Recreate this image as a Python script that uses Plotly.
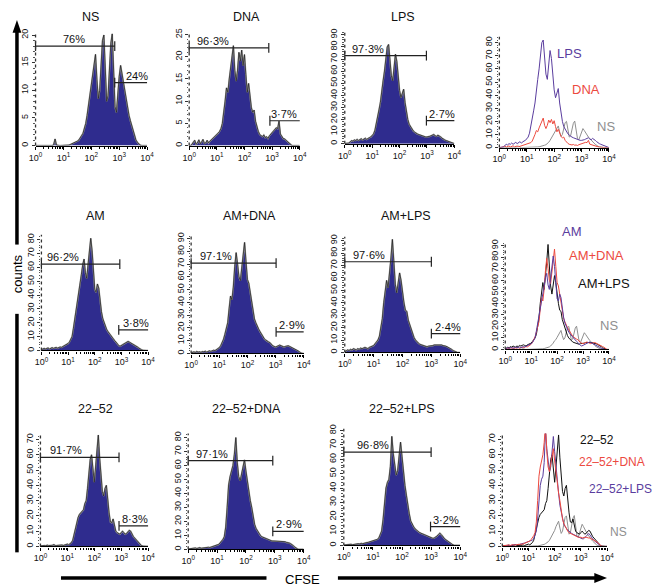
import plotly.graph_objects as go
from plotly.subplots import make_subplots

# the page puts the plot 8px in from the window corner, so the figure is
# 8px smaller and every pixel position below is taken back by that offset
OFF = 8
W, H = 660 - OFF, 586 - OFF

COLORS = {
    "fill": "#2f2c8e",
    "edge": "#1c1c1c",
    "halo": "#9a9a9a",
    "purple": "#5a3d9e",
    "red": "#ec4a3f",
    "grey": "#8f8f8f",
    "black": "#111111",
    "text": "#111111",
}
FONT = "Liberation Sans, Arial, Helvetica, sans-serif"

# CFSE channels: 0.05-decade steps from 10^0 to 10^4 (81 channels)
CHANNELS = [10 ** (k / 20) for k in range(81)]

# counts per channel (rows = half decades)
NS = [0, 0, 0, 0, 0, 0, 0, 0, 0, 0,
      0, 0, 0, 0.2, 1.2, 0.1, 0, 0, 0, 0,
      0, 0, 0, 0.1, 0.1, 0.2, 0.3, 0.4, 0.5, 0.6,
      0.8, 1.0, 1.3, 1.8, 2.2, 3.0, 4.0, 5.5, 7.5, 8.5,
      10.5, 13.0, 15.5, 16.5, 12.0, 8.5, 10.0, 15.0, 19.0, 20.0,
      13.0, 8.0, 9.0, 14.0, 18.5, 20.2, 14.0, 7.0, 6.0, 9.5,
      12.5, 14.5, 13.0, 11.0, 9.5, 8.0, 7.0, 5.5, 4.5, 3.5,
      2.5, 1.6, 1.0, 0.6, 0.3, 0.1, 0, 0, 0, 0,
      0]
DNA = [0, 0, 0.3, 0.8, 1.2, 0.3, 0.6, 1.3, 0.4, 0.8,
       1.4, 0.5, 0.6, 1.2, 0.6, 1.0, 1.3, 1.6, 1.8, 2.0,
       2.4, 2.8, 3.2, 3.8, 5.0, 7.0, 10.0, 13.0, 12.0, 15.0,
       18.0, 20.0, 22.5, 17.0, 14.5, 17.0, 21.0, 19.0, 21.5, 18.0,
       20.5, 16.0, 12.0, 14.0, 10.5, 8.5, 7.5, 8.0, 5.5, 4.0,
       3.2, 2.5, 2.2, 2.0, 2.4, 1.8, 2.0, 1.6, 2.2, 2.6,
       3.0, 3.4, 3.8, 4.0, 3.8, 5.5, 2.6, 2.2, 1.6, 1.5,
       1.2, 0.8, 0.6, 0.3, 0.1, 0, 0, 0, 0, 0,
       0]
LPS = [0, 0, 0, 0.5, 1.5, 2.5, 2.0, 3.0, 2.5, 3.5,
       2.5, 3.0, 4.0, 3.0, 3.5, 4.5, 3.5, 4.5, 5.0, 5.5,
       6.5, 8.0, 11.0, 16.0, 23.0, 28.0, 34.0, 45.0, 52.0, 60.0,
       68.0, 80.0, 82.0, 66.0, 56.0, 52.0, 62.0, 74.0, 68.0, 53.0,
       44.0, 38.0, 41.0, 45.0, 34.0, 25.0, 20.0, 16.0, 14.0, 12.0,
       10.5, 9.5, 8.5, 8.0, 7.5, 7.0, 6.5, 6.0, 6.0, 5.5,
       5.5, 5.5, 6.0, 6.5, 7.0, 7.5, 6.5, 6.0, 7.0, 6.5,
       5.5, 4.5, 3.5, 3.0, 2.5, 2.0, 1.5, 1.0, 0.5, 0,
       0]
AM = [0.5, 1.0, 1.5, 1.0, 1.2, 1.8, 1.0, 1.5, 2.0, 1.5,
      1.8, 2.2, 1.6, 2.0, 2.5, 2.2, 2.8, 3.0, 3.5, 4.0,
      5.0, 6.0, 8.0, 10.0, 16.0, 22.0, 29.0, 36.0, 42.0, 48.0,
      55.0, 62.0, 66.0, 56.0, 52.0, 62.0, 70.0, 81.0, 72.0, 58.0,
      44.0, 42.0, 48.0, 45.0, 34.0, 28.0, 23.0, 20.0, 17.0, 15.0,
      13.5, 12.0, 11.0, 10.0, 8.5, 7.0, 6.0, 4.5, 3.5, 3.0,
      3.5, 4.0, 4.5, 5.0, 5.5, 6.5, 6.0, 5.5, 5.0, 4.5,
      4.0, 3.0, 2.5, 1.8, 1.0, 0.5, 0.2, 0, 0, 0,
      0]
AM_DNA = [0.5, 1.0, 1.2, 0.8, 1.5, 1.0, 1.3, 0.8, 1.5, 1.2,
          1.8, 1.0, 1.5, 2.0, 1.6, 2.2, 2.5, 2.2, 3.0, 3.5,
          4.5, 6.0, 8.0, 11.0, 15.0, 19.0, 24.0, 35.0, 45.0, 42.0,
          52.0, 68.0, 79.0, 70.0, 60.0, 57.0, 68.0, 80.0, 87.0, 72.0,
          58.0, 55.0, 48.0, 40.0, 31.0, 27.0, 24.0, 21.0, 19.0, 17.0,
          15.0, 13.0, 11.5, 10.5, 9.5, 9.0, 8.5, 7.0, 6.0, 5.5,
          5.0, 5.5, 6.0, 6.5, 6.0, 5.5, 5.0, 5.5, 6.0, 6.0,
          5.5, 4.8, 4.0, 3.5, 3.0, 2.6, 2.0, 1.0, 0.4, 0,
          0]
AM_LPS = [0.5, 1.5, 2.0, 1.5, 2.5, 2.0, 3.0, 2.5, 2.0, 3.0,
          2.5, 3.5, 3.0, 3.5, 4.0, 3.5, 3.0, 4.0, 4.5, 5.0,
          5.5, 7.0, 8.5, 10.0, 13.0, 19.0, 27.0, 40.0, 52.0, 58.0,
          52.0, 62.0, 76.0, 91.0, 70.0, 55.0, 48.0, 56.0, 64.0, 58.0,
          46.0, 40.0, 34.0, 33.0, 26.0, 22.0, 18.0, 15.0, 12.0, 10.0,
          8.5, 7.5, 6.5, 6.0, 5.5, 5.0, 4.5, 4.5, 5.0, 5.0,
          5.5, 5.5, 6.0, 6.0, 6.5, 6.0, 6.5, 6.0, 5.5, 5.5,
          5.0, 4.5, 4.0, 3.2, 2.5, 1.5, 0.8, 0.3, 0, 0,
          0]
C2252 = [0.3, 0.5, 0.3, 0.6, 0.4, 0.8, 0.5, 0.6, 0.4, 0.8,
         1.2, 0.5, 0.6, 0.8, 0.5, 0.7, 0.9, 0.6, 0.8, 1.0,
         1.5, 1.0, 1.5, 2.5, 4.0, 8.0, 12.0, 15.0, 19.0, 21.0,
         22.0, 22.5, 24.0, 28.0, 30.0, 38.0, 48.0, 57.0, 60.0, 48.0,
         42.0, 52.0, 62.0, 73.0, 58.0, 46.0, 36.0, 33.0, 38.0, 40.0,
         30.0, 22.0, 16.0, 15.5, 18.0, 14.0, 10.0, 9.0, 8.5, 8.0,
         9.0, 10.0, 9.0, 8.0, 8.5, 9.5, 10.5, 10.0, 8.0, 6.5,
         5.5, 4.5, 3.0, 2.0, 1.2, 0.6, 0.2, 0, 0, 0,
         0]
C2252_DNA = [0.3, 0.5, 0.8, 0.5, 0.7, 1.0, 0.6, 0.8, 1.2, 0.8,
             1.0, 1.3, 1.0, 1.2, 1.5, 1.3, 1.6, 2.0, 2.2, 2.5,
             3.0, 3.5, 4.5, 5.5, 7.0, 9.0, 16.0, 30.0, 46.0, 52.0,
             56.0, 60.0, 68.0, 80.0, 62.0, 52.0, 49.0, 55.0, 60.0, 64.0,
             56.0, 48.0, 40.0, 35.0, 30.0, 23.0, 18.0, 15.0, 13.0, 11.0,
             10.0, 9.0, 8.5, 8.0, 7.5, 7.0, 6.5, 6.5, 6.0, 6.0,
             6.0, 5.5, 6.0, 6.0, 6.0, 5.5, 5.5, 5.5, 5.0, 5.0,
             4.5, 4.0, 3.5, 2.5, 1.5, 0.6, 0.1, 0, 0, 0,
             0]
C2252_LPS = [0.2, 0.4, 0.6, 0.3, 0.5, 0.8, 0.5, 0.7, 1.0, 0.8,
             1.2, 1.0, 1.4, 1.2, 1.6, 1.8, 2.0, 2.2, 2.5, 2.6,
             2.8, 3.2, 3.6, 4.2, 5.0, 7.0, 10.0, 18.0, 30.0, 40.0,
             44.0, 46.0, 55.0, 76.0, 64.0, 56.0, 49.0, 52.0, 62.0, 72.0,
             62.0, 51.0, 42.0, 35.0, 27.0, 22.0, 17.0, 14.5, 13.0, 11.5,
             10.5, 10.0, 9.0, 8.5, 8.0, 7.5, 7.0, 6.5, 6.0, 5.5,
             5.5, 5.0, 5.0, 5.5, 6.5, 7.5, 8.5, 7.5, 6.0, 5.0,
             4.0, 3.2, 2.8, 2.0, 1.0, 0.4, 0, 0, 0, 0,
             0]

TITLES = [["NS", "DNA", "LPS"],
          ["AM", "AM+DNA", "AM+LPS"],
          ["22–52", "22–52+DNA", "22–52+LPS"]]
SERIES = [[NS, DNA, LPS],
          [AM, AM_DNA, AM_LPS],
          [C2252, C2252_DNA, C2252_LPS]]

# marker gates: decade ends of the two bars and their count level
GATE_LEFT_END = [[2.84, 2.88, 2.98], [2.94, 3.02, 3.0], [2.92, 2.93, 3.0]]
GATE_RIGHT_START = [[2.84, 2.92, 2.98], [2.9, 3.02, 3.0], [2.92, 2.93, 2.98]]
GATE_RIGHT_END = [[4.01, 4.03, 4.08], [4.07, 4.13, 4.09], [4.12, 4.02, 4.06]]
GATE_LEFT_Y = [[18, 22, 72.8], [62.4, 70.8, 73], [58.3, 63.5, 65]]
GATE_RIGHT_Y = [[11.4, 5.6, 19], [14.8, 16.9, 15.1], [13.4, 12.9, 13.1]]
LABEL_LEFT = [["76%", "96·3%", "97·3%"], ["96·2%", "97·1%", "97·6%"], ["91·7%", "97·1%", "96·8%"]]
LABEL_RIGHT = [["24%", "3·7%", "2·7%"], ["3·8%", "2·9%", "2·4%"], ["8·3%", "2·9%", "3·2%"]]
LABEL_LEFT_X = [[1.38, 0.85, 0.83], [0.8, 0.89, 0.84], [0.94, 0.84, 1.02]]
LABEL_RIGHT_X = [[3.64, 3.44, 3.54], [3.55, 3.57, 3.57], [3.52, 3.49, 3.5]]

# overlay column
OVERLAYS = [
    [(NS, "NS", "grey"), (DNA, "DNA", "red"), (LPS, "LPS", "purple")],
    [(NS, "NS", "grey"), (AM_LPS, "AM+LPS", "black"), (AM_DNA, "AM+DNA", "red"), (AM, "AM", "purple")],
    [(NS, "NS", "grey"), (C2252, "22–52", "black"), (C2252_LPS, "22–52+LPS", "purple"),
     (C2252_DNA, "22–52+DNA", "red")],
]

# panel boxes in window pixels: x of 10^0, x of 10^4, y of zero, y of top, y max, y dtick
GEOM = [
    [(29, 143, 142, 28, 20.4, 5), (186, 299, 142, 28, 25.4, 5),
     (345, 457, 140, 27, 92.5, 10), (503, 615, 144, 32, 84.5, 10)],
    [(35, 144, 349, 232, 83.6, 10), (188, 303, 352, 233, 92.3, 10),
     (345, 463, 351, 234, 93.2, 10), (509, 615, 348, 240, 92.6, 10)],
    [(34, 144, 547, 433, 73.9, 10), (185, 303, 550, 433, 82.8, 10),
     (344, 463, 546, 428, 81.4, 10), (506, 613, 547, 433, 73.9, 10)],
]
TITLE_POS = [[(85, 12), (245, 12), (405, 12)],
             [(90, 213), (248, 213), (408, 213)],
             [(90, 408), (245, 408), (403, 408)]]
OVERLAY_LABEL_POS = [
    {"LPS": (575, 49), "DNA": (592, 85), "NS": (612, 123)},
    {"AM": (577, 229), "AM+DNA": (602, 253), "AM+LPS": (610, 281), "NS": (615, 324)},
    {"22–52": (603, 439), "22–52+DNA": (618, 462), "22–52+LPS": (627, 489), "NS": (625, 532)},
]


def px(x):
    return (x - OFF) / W


def py(y):
    return 1 - (y - OFF) / H


fig = make_subplots(rows=3, cols=4)

decades = [1, 10, 100, 1000, 10000]
minor_vals = [m * d for d in [1, 10, 100, 1000] for m in range(2, 10)]

for r in range(3):
    for c in range(4):
        x0, x1, yz, yt, ymax, dt = GEOM[r][c]
        fig.update_xaxes(
            domain=[px(x0), px(x1)], type="log", range=[0, 4],
            tickvals=decades, ticktext=[f"10<sup>{k}</sup>" for k in range(5)],
            ticks="outside", ticklen=3, tickwidth=1, tickcolor="black",
            minor=dict(tickvals=minor_vals, ticks="outside", ticklen=2, tickcolor="black"),
            showline=True, linecolor="black", linewidth=1.2,
            showgrid=False, zeroline=False,
            tickfont=dict(size=9, family=FONT, color=COLORS["text"]),
            row=r + 1, col=c + 1)
        fig.update_yaxes(
            domain=[py(yz), py(yt)], range=[0, ymax],
            tick0=0, dtick=dt, tickangle=-90,
            ticks="outside", ticklen=3, tickcolor="#333",
            minor=dict(dtick=dt / 5, ticks="outside", ticklen=1.5, tickcolor="#555"),
            showline=False, showgrid=False, zeroline=False,
            tickfont=dict(size=9, family=FONT, color=COLORS["text"]),
            row=r + 1, col=c + 1)
        # dotted y axis line
        fig.add_shape(type="line", xref="x domain", yref="y domain",
                      x0=0, x1=0, y0=0, y1=1,
                      line=dict(color="#333", width=1.3, dash="dot"),
                      row=r + 1, col=c + 1)

    # filled single histograms: grey halo outline, then a thin black edge
    for c in range(3):
        fig.add_trace(go.Scatter(
            x=CHANNELS, y=SERIES[r][c], mode="lines", fill="tozeroy",
            fillcolor=COLORS["fill"], line=dict(color=COLORS["halo"], width=1.6),
            showlegend=False, hoverinfo="skip"), row=r + 1, col=c + 1)
        fig.add_trace(go.Scatter(
            x=CHANNELS, y=SERIES[r][c], mode="lines",
            line=dict(color=COLORS["edge"], width=0.7),
            showlegend=False, hoverinfo="skip"), row=r + 1, col=c + 1)

        # gates
        for xs, y in [((1, 10 ** GATE_LEFT_END[r][c]), GATE_LEFT_Y[r][c]),
                      ((10 ** GATE_RIGHT_START[r][c], 10 ** GATE_RIGHT_END[r][c]), GATE_RIGHT_Y[r][c])]:
            fig.add_trace(go.Scatter(
                x=list(xs), y=[y, y], mode="lines+markers", cliponaxis=False,
                line=dict(color="#222", width=1.2),
                marker=dict(symbol="line-ns", size=7, line=dict(color="#222", width=1.2)),
                showlegend=False, hoverinfo="skip"), row=r + 1, col=c + 1)
        for lx, ly, txt in [(LABEL_LEFT_X[r][c], GATE_LEFT_Y[r][c], LABEL_LEFT[r][c]),
                            (LABEL_RIGHT_X[r][c], GATE_RIGHT_Y[r][c], LABEL_RIGHT[r][c])]:
            fig.add_annotation(x=lx, y=ly, text=txt, showarrow=False,
                               xanchor="center", yanchor="bottom", yshift=-1,
                               font=dict(size=11, family=FONT, color=COLORS["text"]),
                               row=r + 1, col=c + 1)

        tx, ty = TITLE_POS[r][c]
        fig.add_annotation(x=px(tx), y=py(ty), xref="paper", yref="paper",
                           text=TITLES[r][c], showarrow=False,
                           xanchor="center", yanchor="middle",
                           font=dict(size=12.5, family=FONT, color=COLORS["text"]))

    # overlay panel
    for series, name, col in OVERLAYS[r]:
        fig.add_trace(go.Scatter(
            x=CHANNELS, y=series, mode="lines", name=name,
            line=dict(color=COLORS[col], width=1),
            showlegend=False, hoverinfo="skip"), row=r + 1, col=4)
        lx, ly = OVERLAY_LABEL_POS[r][name]
        fig.add_annotation(x=px(lx), y=py(ly), xref="paper", yref="paper",
                           text=name, showarrow=False,
                           xanchor="center", yanchor="middle",
                           font=dict(size=13 if r < 2 else 12, family=FONT, color=COLORS[col]))

# big axis arrows
arrow_line = dict(color="black", width=3.5)
for (xa, ya, xb, yb) in [(10, 25, 10, 242), (10, 312, 10, 553), (55, 579, 265, 579), (338, 579, 602, 579)]:
    fig.add_shape(type="line", xref="paper", yref="paper",
                  x0=px(xa), y0=py(ya), x1=px(xb), y1=py(yb), line=arrow_line)


def _tri(pts):
    return "M " + " L ".join(f"{px(a)},{py(b)}" for a, b in pts) + " Z"


fig.add_shape(type="path", xref="paper", yref="paper", path=_tri([(10, 15), (5.5, 28), (14.5, 28)]),
              fillcolor="black", line=dict(width=0))
fig.add_shape(type="path", xref="paper", yref="paper", path=_tri([(613, 579), (600, 574), (600, 584)]),
              fillcolor="black", line=dict(width=0))
fig.add_annotation(x=px(10), y=py(271), xref="paper", yref="paper", text="counts",
                   textangle=-90, showarrow=False, xanchor="center", yanchor="middle",
                   font=dict(size=13, family=FONT, color="black"))
fig.add_annotation(x=px(302), y=py(580), xref="paper", yref="paper", text="CFSE",
                   showarrow=False, xanchor="center", yanchor="middle",
                   font=dict(size=13, family=FONT, color="black"))

fig.update_layout(
    width=W, height=H,
    margin=dict(l=0, r=0, t=0, b=0),
    paper_bgcolor="white", plot_bgcolor="white",
    font=dict(family=FONT, color=COLORS["text"]),
    showlegend=False,
)

fig.write_html("out.html")
